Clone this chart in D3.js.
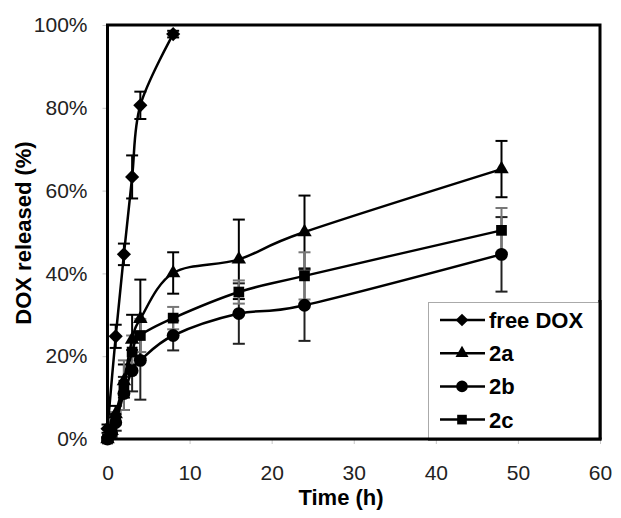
<!DOCTYPE html>
<html>
<head>
<meta charset="utf-8">
<script src="https://cdn.jsdelivr.net/npm/d3@7"></script>
<style>
  html, body { margin: 0; padding: 0; background: #fff; }
  svg { display: block; font-family: "Liberation Sans", Arial, sans-serif; }
</style>
</head>
<body>
<svg id="chart" width="621" height="518"></svg>
<script>
// ---- data ----
const freeTimes = [0, 1, 2, 3, 4, 8];
const freeDOX = [2.5, 24.8, 44.6, 63.3, 80.6, 97.8];
const freeDOXErr = [1, 2.8, 2.6, 5.2, 3.3, 0.8];

const polyTimes = [0, 0.5, 1, 2, 3, 4, 8, 16, 24, 48];
const s2a = [0, 2, 6, 14, 24, 29, 40.1, 43.4, 50, 65.2];
const s2aErr = [0.5, 1, 2, 4, 6, 9.5, 5, 9.6, 8.8, 6.8];
const s2b = [0, 1.5, 4, 11, 16.5, 19, 25, 30.3, 32.3, 44.6];
const s2bErr = [0.5, 1, 2, 4, 5, 9.5, 3.6, 7.3, 8.6, 9];
const s2c = [0, 2, 5, 13, 21, 25, 29.2, 35.5, 39.4, 50.4];
const s2cErr = [0.5, 1, 1.5, 6, 4, 4, 2.7, 2.8, 5.7, 5.4];

const xTicks = [0, 10, 20, 30, 40, 50, 60];
const yTicks = [0, 20, 40, 60, 80, 100];
const legendNames = ["free DOX", "2a", "2b", "2c"];

// ---- layout ----
const svg = d3.select("#chart");
const x = d3.scaleLinear().domain([0, 60]).range([107.5, 600]);
const y = d3.scaleLinear().domain([0, 100]).range([439, 25]);

const series = [
  { name: legendNames[0], t: freeTimes, v: freeDOX, e: freeDOXErr, sym: "diamond", errColor: "#000" },
  { name: legendNames[1], t: polyTimes, v: s2a, e: s2aErr, sym: "triangle", errColor: "#000" },
  { name: legendNames[2], t: polyTimes, v: s2b, e: s2bErr, sym: "circle", errColor: "#222" },
  { name: legendNames[3], t: polyTimes, v: s2c, e: s2cErr, sym: "square", errColor: "#777" }
];

function symbolPath(kind, scale) {
  scale = scale || 1;
  if (kind === "diamond") return d3.symbol().type(d3.symbolSquare).size(100 * scale * scale)();
  if (kind === "triangle") return d3.symbol().type(d3.symbolTriangle).size(90 * scale * scale)();
  if (kind === "circle") return d3.symbol().type(d3.symbolCircle).size(130 * scale * scale)();
  return d3.symbol().type(d3.symbolSquare).size(115 * scale * scale)();
}
function symbolTransform(kind, px, py) {
  return kind === "diamond" ? `translate(${px},${py}) rotate(45)` : `translate(${px},${py})`;
}

// ---- axes ----
const yAxis = d3.axisLeft(y).tickValues(yTicks).tickSize(5).tickPadding(15).tickFormat(d => d + "%");
const gy = svg.append("g").attr("transform", `translate(${x(0)},0)`).call(yAxis);
const xAxis = d3.axisBottom(x).tickValues(xTicks).tickSize(5).tickPadding(21);
const gx = svg.append("g").attr("transform", `translate(0,${y(0)})`).call(xAxis);
[gx, gy].forEach(g => {
  g.select(".domain").remove();
  g.selectAll(".tick line").attr("stroke", "#c8c8c8").attr("stroke-width", 1);
  g.selectAll(".tick text").attr("font-size", 21).attr("fill", "#222")
    .attr("font-family", "'Liberation Sans', Arial, sans-serif");
});

// axis titles
svg.append("text")
  .attr("x", 341).attr("y", 505)
  .attr("text-anchor", "middle")
  .attr("font-size", 22).attr("font-weight", "bold")
  .text("Time (h)");
svg.append("text")
  .attr("transform", "translate(31,233) rotate(-90)")
  .attr("text-anchor", "middle")
  .attr("font-size", 22).attr("font-weight", "bold")
  .text("DOX released (%)");

// ---- plot contents ----
const plot = svg.append("g");
const line = d3.line().curve(d3.curveCatmullRom.alpha(0)).x(d => x(d[0])).y(d => y(d[1]));

// error bars
series.forEach(s => {
  const g = plot.append("g");
  s.t.forEach((t, i) => {
    const cx = x(t), hi = y(s.v[i] + s.e[i]), lo = y(s.v[i] - s.e[i]);
    g.append("line").attr("x1", cx).attr("x2", cx).attr("y1", hi).attr("y2", lo)
      .attr("stroke", s.errColor).attr("stroke-width", 2);
    [hi, lo].forEach(yy => g.append("line").attr("x1", cx - 6).attr("x2", cx + 6)
      .attr("y1", yy).attr("y2", yy).attr("stroke", s.errColor).attr("stroke-width", 2));
  });
});

// lines
series.forEach(s => {
  plot.append("path")
    .datum(s.t.map((t, i) => [t, s.v[i]]))
    .attr("fill", "none").attr("stroke", "#000").attr("stroke-width", 2.5)
    .attr("d", line);
});

// markers
series.forEach(s => {
  plot.append("g").selectAll("path")
    .data(s.t.map((t, i) => [t, s.v[i]]))
    .join("path")
    .attr("d", symbolPath(s.sym))
    .attr("transform", d => symbolTransform(s.sym, x(d[0]), y(d[1])))
    .attr("fill", "#000");
});

// frame
svg.append("rect")
  .attr("x", x(0)).attr("y", y(100))
  .attr("width", x(60) - x(0)).attr("height", y(0) - y(100))
  .attr("fill", "none").attr("stroke", "#000").attr("stroke-width", 3);

// ---- legend ----
const lg = svg.append("g");
lg.append("rect")
  .attr("x", 428.5).attr("y", 302.5)
  .attr("width", x(60) - 428.5).attr("height", y(0) - 302.5)
  .attr("fill", "#fff").attr("stroke", "#aaa").attr("stroke-width", 1);
// redraw frame edges over legend box
svg.append("line").attr("x1", 428).attr("x2", x(60) + 1.5).attr("y1", y(0)).attr("y2", y(0))
  .attr("stroke", "#000").attr("stroke-width", 3);
svg.append("line").attr("x1", x(60)).attr("x2", x(60)).attr("y1", 300).attr("y2", y(0))
  .attr("stroke", "#000").attr("stroke-width", 3);

series.forEach((s, i) => {
  const cy = 320 + i * 33.2;
  lg.append("line").attr("x1", 440).attr("x2", 485).attr("y1", cy).attr("y2", cy)
    .attr("stroke", "#000").attr("stroke-width", 2.5);
  lg.append("path").attr("d", symbolPath(s.sym, 0.9))
    .attr("transform", symbolTransform(s.sym, 462, cy)).attr("fill", "#000");
  lg.append("text").attr("x", 489).attr("y", cy + 8)
    .attr("font-size", 22).attr("font-weight", "bold").attr("fill", "#000")
    .text(s.name);
});
</script>
</body>
</html>
